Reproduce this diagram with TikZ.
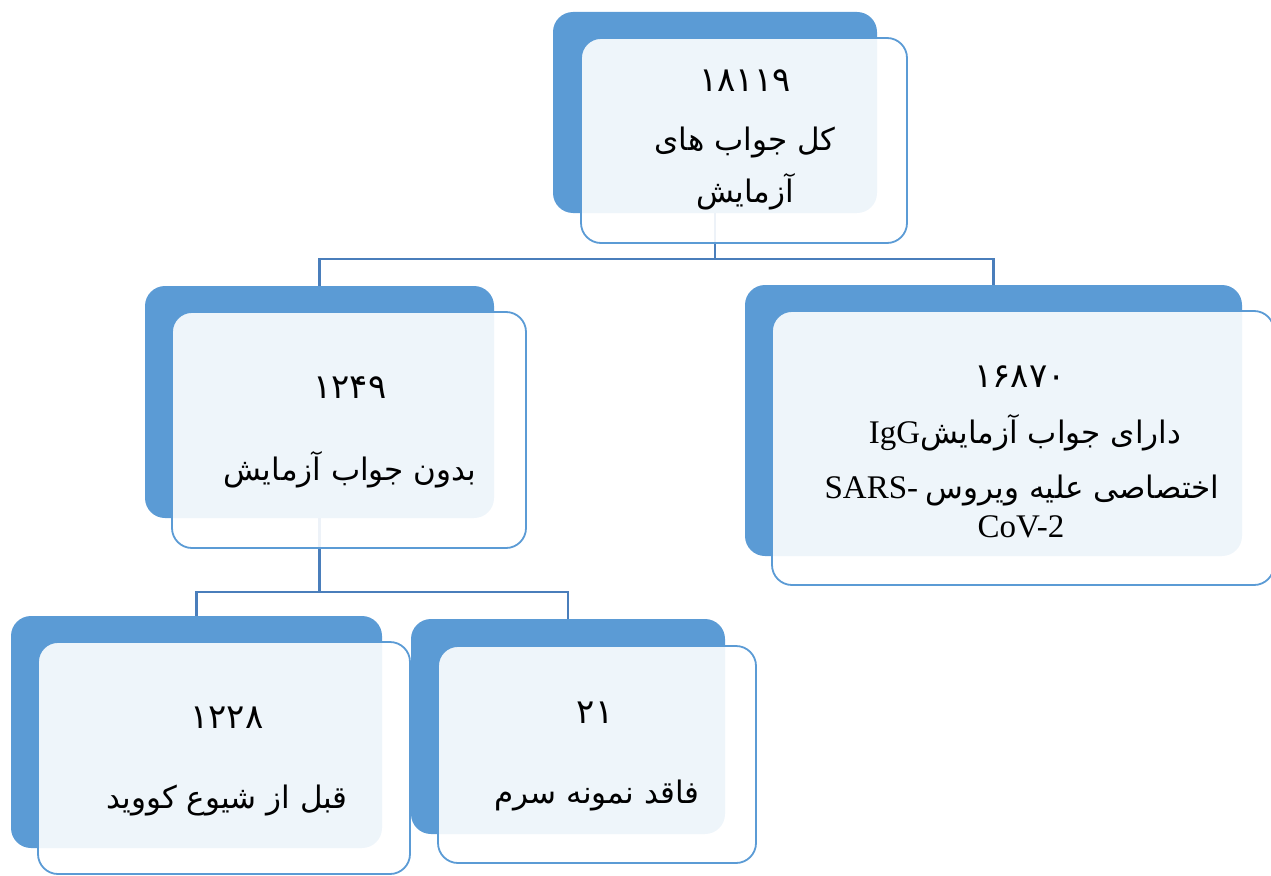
\documentclass[tikz,border=0pt]{standalone}
\usepackage{fontspec}
\setmainfont{Liberation Serif}
\newfontfamily\fa[Script=Arabic]{DejaVu Sans}
\TeXXeTstate=1
\definecolor{bk}{RGB}{91,155,213}
\definecolor{conncol}{RGB}{74,126,187}
\begin{document}
\begin{tikzpicture}[x=1pt,y=-1pt,
  backbox/.style={fill=bk, draw=none, rounded corners=20pt, inner sep=0pt},
  frontbox/.style={fill=white, fill opacity=0.9, draw=bk, draw opacity=1, line width=1.8pt, rounded corners=20pt, inner sep=0pt},
  conn/.style={draw=conncol, line width=2.4pt},
  txt/.style={inner sep=0pt, anchor=base, font=\fontsize{31}{34}\selectfont},
  num/.style={inner sep=0pt, anchor=base, font=\fontsize{34}{36}\selectfont},
  lat/.style={inner sep=0pt, anchor=base, font=\fontsize{33}{36}\selectfont}]
\useasboundingbox (0,0) rectangle (1271,875);
% back boxes
\node[backbox, minimum width=324pt, minimum height=201pt] (b1back) at (715,112.5) {};
\node[backbox, minimum width=497pt, minimum height=271pt] (b2back) at (993.5,420.5) {};
\node[backbox, minimum width=349pt, minimum height=232pt] (b3back) at (319.5,402) {};
\node[backbox, minimum width=371pt, minimum height=232pt] (b4back) at (196.5,732) {};
\node[backbox, minimum width=314pt, minimum height=215pt] (b5back) at (568,726.5) {};
% connectors
\coordinate (j1) at (715,259);
\coordinate (j2) at (319.5,592);
\draw[conn] (b1back.south) -- (j1) -| (b3back.north);
\draw[conn] (j1) -| (b2back.north);
\draw[conn] (b3back.south) -- (j2) -| (b4back.north);
\draw[conn] (j2) -| (b5back.north);
% front boxes
\node[frontbox, minimum width=326pt, minimum height=205pt] (b1) at (744,140.5) {};
\node[frontbox, minimum width=502pt, minimum height=274pt] (b2) at (1023,448) {};
\node[frontbox, minimum width=354pt, minimum height=236pt] (b3) at (349,430) {};
\node[frontbox, minimum width=372pt, minimum height=232pt] (b4) at (224,758) {};
\node[frontbox, minimum width=318pt, minimum height=217pt] (b5) at (597,754.5) {};
% texts
\node[num] (t1a) at (745,92) {\fa ۱۸۱۱۹};
\node[txt] (t1b) at (745,150) {\fa\beginR کل جواب های\endR};
\node[txt] (t1c) at (745,202) {\fa\beginR آزمایش\endR};
\node[num] (t2a) at (1020,387) {\fa ۱۶۸۷۰};
\node[txt] (t2b) at (1025,443) {\beginR{\fa دارای جواب آزمایش}\beginL{\fontsize{33}{36}\selectfont IgG}\endL\endR};
\node[txt] (t2c) at (1022,498) {\beginR{\fa اختصاصی علیه ویروس} \beginL{\fontsize{33}{36}\selectfont SARS-}\endL\endR};
\node[lat] (t2d) at (1021,537) {CoV-2};
\node[num] (t3a) at (350,398) {\fa ۱۲۴۹};
\node[txt] (t3b) at (350,480) {\fa\beginR بدون جواب آزمایش\endR};
\node[num] (t4a) at (227,728) {\fa ۱۲۲۸};
\node[txt] (t4b) at (227,808) {\fa\beginR قبل از شیوع کووید\endR};
\node[num] (t5a) at (595,723) {\fa ۲۱};
\node[txt] (t5b) at (597,803) {\fa\beginR فاقد نمونه سرم\endR};
\end{tikzpicture}
\end{document}
